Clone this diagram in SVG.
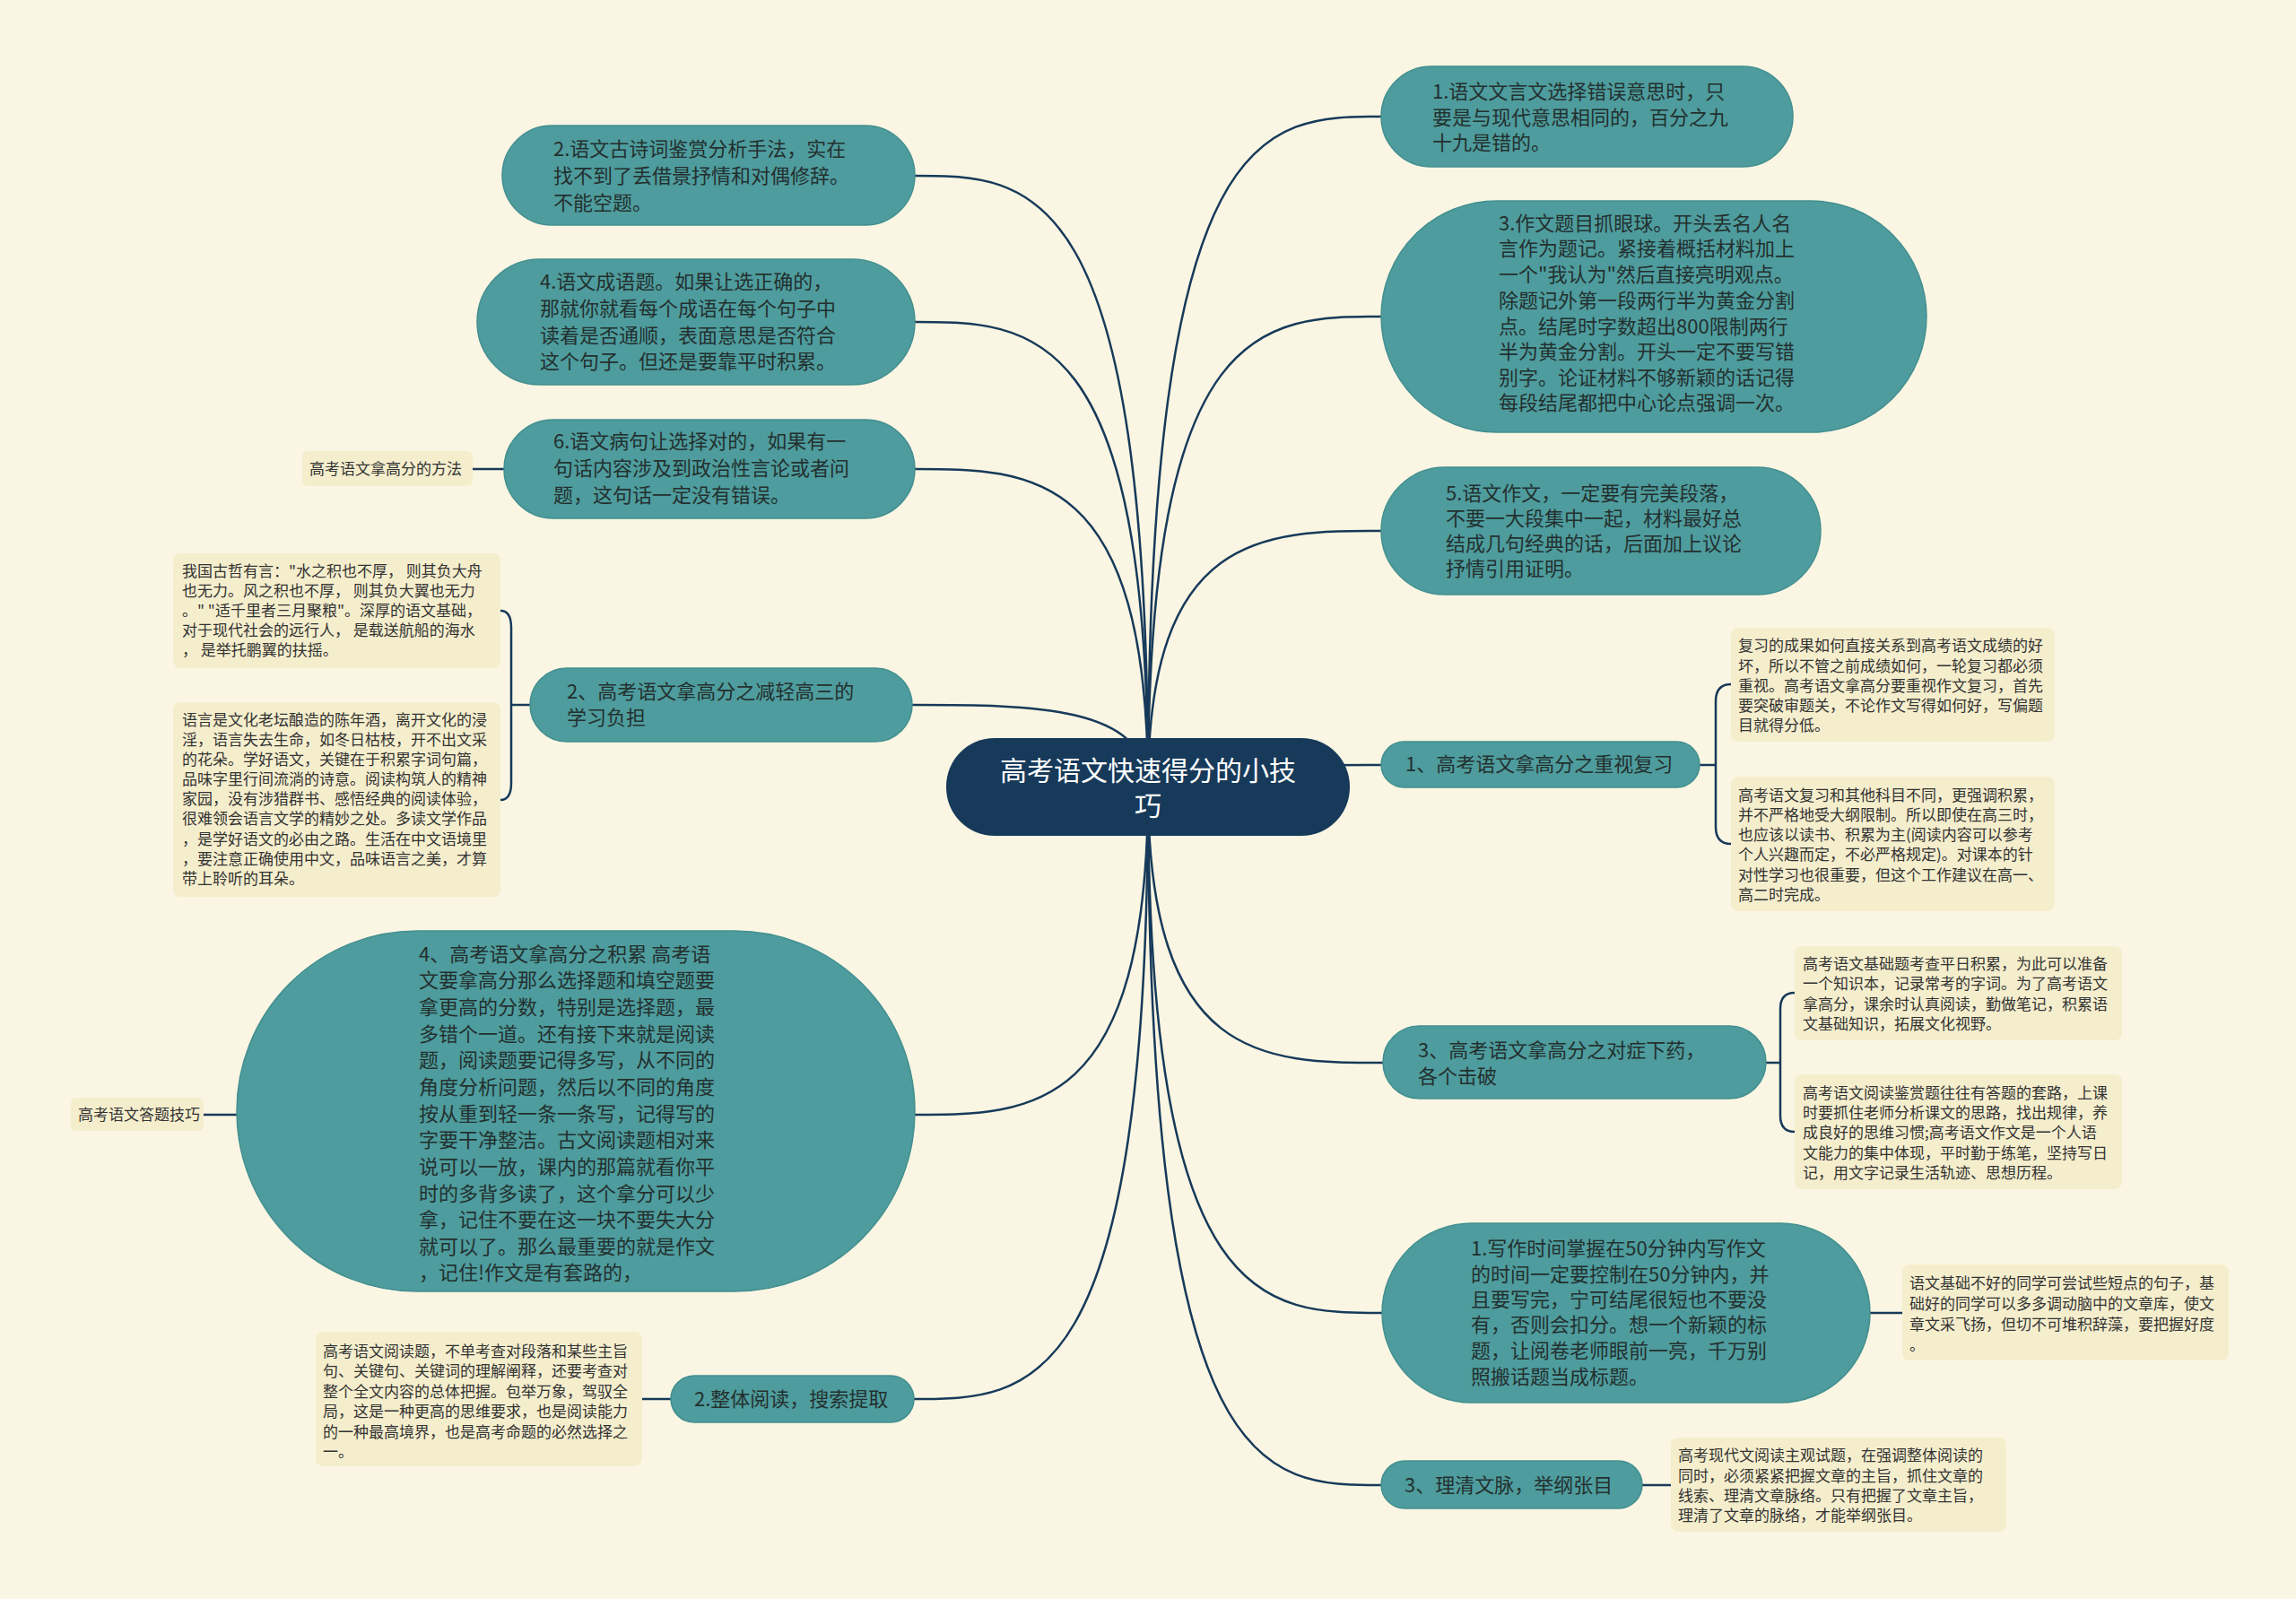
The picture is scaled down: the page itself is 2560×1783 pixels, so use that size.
<svg xmlns="http://www.w3.org/2000/svg" width="2560" height="1783" viewBox="0 0 2560 1783">
<style>
.bg{fill:#FAF6E3}
.node{fill:#4E9C9D;stroke:#438F90;stroke-width:1.5}
.root{fill:#173A5A}
.leaf{fill:#F5EECD}
.link{fill:none;stroke:#173A5A;stroke-width:2.5}
text{font-family:"Noto Sans CJK SC","Microsoft YaHei",sans-serif;dominant-baseline:central}
.t{font-size:22px;fill:#23302F}
.s{font-size:17px;fill:#333333}
.r{font-size:30px;fill:#FFFFFF}
</style>
<rect class="bg" x="0" y="0" width="2560" height="1783"/>
<g id="connectors">
<path class="link" d="M1280 878 C1280 196 1150 196 1020 196"/>
<path class="link" d="M1280 878 C1280 359 1150 359 1020 359"/>
<path class="link" d="M1280 878 C1280 523 1150 523 1020 523"/>
<path class="link" d="M1280 878 C1280 786 1150 786 1017 786"/>
<path class="link" d="M1280 878 C1280 1243 1150 1243 1020 1243"/>
<path class="link" d="M1280 878 C1280 1560 1150 1560 1019 1560"/>
<path class="link" d="M1280 878 C1280 130 1410 130 1540 130"/>
<path class="link" d="M1280 878 C1280 353 1410 353 1540 353"/>
<path class="link" d="M1280 878 C1280 592 1410 592 1540 592"/>
<path class="link" d="M1280 878 C1280 853 1410 853 1540 853"/>
<path class="link" d="M1280 878 C1280 1185 1410 1185 1542 1185"/>
<path class="link" d="M1280 878 C1280 1464 1410 1464 1541 1464"/>
<path class="link" d="M1280 878 C1280 1656 1410 1656 1540 1656"/>
<path class="link" d="M527 523 L562 523"/>
<path class="link" d="M227 1243 L264 1243"/>
<path class="link" d="M716 1560 L748 1560"/>
<path class="link" d="M591 786 L570 786"/>
<path class="link" d="M558 681 Q570 681 570 700 L570 873 Q570 892 558 892"/>
<path class="link" d="M1895 853 L1913 853"/>
<path class="link" d="M1930 763 Q1913 763 1913 782 L1913 922 Q1913 941 1930 941"/>
<path class="link" d="M1969 1185 L1985 1185"/>
<path class="link" d="M2001 1107 Q1985 1107 1985 1125 L1985 1244 Q1985 1262 2001 1262"/>
<path class="link" d="M2085 1464 L2121 1464"/>
<path class="link" d="M1831 1656 L1863 1656"/>
</g>
<g id="root">
<rect class="root" x="1055" y="823" width="450" height="109" rx="54"/>
<text class="r" x="1280" y="857" text-anchor="middle">高考语文快速得分的小技</text>
<text class="r" x="1280" y="896" text-anchor="middle">巧</text>
</g>
<g id="L1">
<rect class="node" x="560" y="140" width="460" height="111" rx="55.5"/>
<text class="t"><tspan x="617" y="164">2.语文古诗词鉴赏分析手法，实在</tspan><tspan x="617" y="194">找不到了丢借景抒情和对偶修辞。</tspan><tspan x="617" y="224">不能空题。</tspan></text>
</g>
<g id="L2">
<rect class="node" x="532" y="289" width="488" height="140" rx="70"/>
<text class="t"><tspan x="602" y="312">4.语文成语题。如果让选正确的，</tspan><tspan x="602" y="342">那就你就看每个成语在每个句子中</tspan><tspan x="602" y="372">读着是否通顺，表面意思是否符合</tspan><tspan x="602" y="401">这个句子。但还是要靠平时积累。</tspan></text>
</g>
<g id="L3">
<rect class="node" x="562" y="468" width="458" height="110" rx="55"/>
<text class="t"><tspan x="617" y="490">6.语文病句让选择对的，如果有一</tspan><tspan x="617" y="520">句话内容涉及到政治性言论或者问</tspan><tspan x="617" y="550">题，这句话一定没有错误。</tspan></text>
</g>
<g id="L3a">
<rect class="leaf" x="337" y="503" width="190" height="39" rx="6"/>
<text class="s" x="345" y="521">高考语文拿高分的方法</text>
</g>
<g id="L4">
<rect class="node" x="591" y="745" width="426" height="82" rx="41"/>
<text class="t"><tspan x="632" y="769">2、高考语文拿高分之减轻高三的</tspan><tspan x="632" y="798">学习负担</tspan></text>
</g>
<g id="L4a">
<rect class="leaf" x="193" y="617" width="365" height="128" rx="8"/>
<text class="s"><tspan x="203" y="635">我国古哲有言："水之积也不厚， 则其负大舟</tspan><tspan x="203" y="657">也无力。风之积也不厚， 则其负大翼也无力</tspan><tspan x="203" y="679">。" "适千里者三月聚粮"。深厚的语文基础，</tspan><tspan x="203" y="701">对于现代社会的远行人， 是载送航船的海水</tspan><tspan x="203" y="723">， 是举托鹏翼的扶摇。</tspan></text>
</g>
<g id="L4b">
<rect class="leaf" x="193" y="783" width="365" height="217" rx="8"/>
<text class="s"><tspan x="203" y="801">语言是文化老坛酿造的陈年酒，离开文化的浸</tspan><tspan x="203" y="823">淫，语言失去生命，如冬日枯枝，开不出文采</tspan><tspan x="203" y="845">的花朵。学好语文，关键在于积累字词句篇，</tspan><tspan x="203" y="867">品味字里行间流淌的诗意。阅读构筑人的精神</tspan><tspan x="203" y="889">家园，没有涉猎群书、感悟经典的阅读体验，</tspan><tspan x="203" y="911">很难领会语言文学的精妙之处。多读文学作品</tspan><tspan x="203" y="934">，是学好语文的必由之路。生活在中文语境里</tspan><tspan x="203" y="956">，要注意正确使用中文，品味语言之美，才算</tspan><tspan x="203" y="978">带上聆听的耳朵。</tspan></text>
</g>
<g id="L5">
<rect class="node" x="264" y="1038" width="756" height="402" rx="201"/>
<text class="t"><tspan x="467" y="1062">4、高考语文拿高分之积累 高考语</tspan><tspan x="467" y="1091">文要拿高分那么选择题和填空题要</tspan><tspan x="467" y="1121">拿更高的分数，特别是选择题，最</tspan><tspan x="467" y="1151">多错个一道。还有接下来就是阅读</tspan><tspan x="467" y="1180">题，阅读题要记得多写，从不同的</tspan><tspan x="467" y="1210">角度分析问题，然后以不同的角度</tspan><tspan x="467" y="1240">按从重到轻一条一条写，记得写的</tspan><tspan x="467" y="1269">字要干净整洁。古文阅读题相对来</tspan><tspan x="467" y="1299">说可以一放，课内的那篇就看你平</tspan><tspan x="467" y="1329">时的多背多读了，这个拿分可以少</tspan><tspan x="467" y="1358">拿，记住不要在这一块不要失大分</tspan><tspan x="467" y="1388">就可以了。那么最重要的就是作文</tspan><tspan x="467" y="1417">，记住!作文是有套路的，</tspan></text>
</g>
<g id="L5a">
<rect class="leaf" x="79" y="1224" width="148" height="37" rx="6"/>
<text class="s" x="87" y="1241">高考语文答题技巧</text>
</g>
<g id="L6">
<rect class="node" x="748" y="1534" width="271" height="52" rx="26"/>
<text class="t" x="774" y="1558">2.整体阅读，搜索提取</text>
</g>
<g id="L6a">
<rect class="leaf" x="352" y="1485" width="364" height="150" rx="8"/>
<text class="s"><tspan x="360" y="1505">高考语文阅读题，不单考查对段落和某些主旨</tspan><tspan x="360" y="1527">句、关键句、关键词的理解阐释，还要考查对</tspan><tspan x="360" y="1550">整个全文内容的总体把握。包举万象，驾驭全</tspan><tspan x="360" y="1572">局，这是一种更高的思维要求，也是阅读能力</tspan><tspan x="360" y="1595">的一种最高境界，也是高考命题的必然选择之</tspan><tspan x="360" y="1617">一。</tspan></text>
</g>
<g id="R1">
<rect class="node" x="1540" y="74" width="459" height="112" rx="56"/>
<text class="t"><tspan x="1597" y="100">1.语文文言文选择错误意思时，只</tspan><tspan x="1597" y="129">要是与现代意思相同的，百分之九</tspan><tspan x="1597" y="157">十九是错的。</tspan></text>
</g>
<g id="R2">
<rect class="node" x="1540" y="224" width="608" height="258" rx="129"/>
<text class="t"><tspan x="1671" y="247">3.作文题目抓眼球。开头丢名人名</tspan><tspan x="1671" y="275">言作为题记。紧接着概括材料加上</tspan><tspan x="1671" y="304">一个"我认为"然后直接亮明观点。</tspan><tspan x="1671" y="333">除题记外第一段两行半为黄金分割</tspan><tspan x="1671" y="362">点。结尾时字数超出800限制两行</tspan><tspan x="1671" y="390">半为黄金分割。开头一定不要写错</tspan><tspan x="1671" y="419">别字。论证材料不够新颖的话记得</tspan><tspan x="1671" y="447">每段结尾都把中心论点强调一次。</tspan></text>
</g>
<g id="R3">
<rect class="node" x="1540" y="521" width="490" height="142" rx="71"/>
<text class="t"><tspan x="1612" y="548">5.语文作文，一定要有完美段落，</tspan><tspan x="1612" y="576">不要一大段集中一起，材料最好总</tspan><tspan x="1612" y="604">结成几句经典的话，后面加上议论</tspan><tspan x="1612" y="632">抒情引用证明。</tspan></text>
</g>
<g id="R4">
<rect class="node" x="1540" y="827" width="355" height="51" rx="25.5"/>
<text class="t" x="1567" y="850">1、高考语文拿高分之重视复习</text>
</g>
<g id="R4a">
<rect class="leaf" x="1930" y="700" width="361" height="127" rx="8"/>
<text class="s"><tspan x="1938" y="718">复习的成果如何直接关系到高考语文成绩的好</tspan><tspan x="1938" y="741">坏，所以不管之前成绩如何，一轮复习都必须</tspan><tspan x="1938" y="763">重视。高考语文拿高分要重视作文复习，首先</tspan><tspan x="1938" y="785">要突破审题关，不论作文写得如何好，写偏题</tspan><tspan x="1938" y="807">目就得分低。</tspan></text>
</g>
<g id="R4b">
<rect class="leaf" x="1930" y="866" width="361" height="150" rx="8"/>
<text class="s"><tspan x="1938" y="885">高考语文复习和其他科目不同，更强调积累，</tspan><tspan x="1938" y="907">并不严格地受大纲限制。所以即使在高三时，</tspan><tspan x="1938" y="929">也应该以读书、积累为主(阅读内容可以参考</tspan><tspan x="1938" y="951">个人兴趣而定，不必严格规定)。对课本的针</tspan><tspan x="1938" y="974">对性学习也很重要，但这个工作建议在高一、</tspan><tspan x="1938" y="996">高二时完成。</tspan></text>
</g>
<g id="R5">
<rect class="node" x="1542" y="1144" width="427" height="81" rx="40.5"/>
<text class="t"><tspan x="1581" y="1169">3、高考语文拿高分之对症下药，</tspan><tspan x="1581" y="1198">各个击破</tspan></text>
</g>
<g id="R5a">
<rect class="leaf" x="2001" y="1055" width="365" height="105" rx="8"/>
<text class="s"><tspan x="2010" y="1073">高考语文基础题考查平日积累，为此可以准备</tspan><tspan x="2010" y="1095">一个知识本，记录常考的字词。为了高考语文</tspan><tspan x="2010" y="1118">拿高分，课余时认真阅读，勤做笔记，积累语</tspan><tspan x="2010" y="1140">文基础知识，拓展文化视野。</tspan></text>
</g>
<g id="R5b">
<rect class="leaf" x="2001" y="1198" width="365" height="128" rx="8"/>
<text class="s"><tspan x="2010" y="1217">高考语文阅读鉴赏题往往有答题的套路，上课</tspan><tspan x="2010" y="1239">时要抓住老师分析课文的思路，找出规律，养</tspan><tspan x="2010" y="1261">成良好的思维习惯;高考语文作文是一个人语</tspan><tspan x="2010" y="1284">文能力的集中体现，平时勤于练笔，坚持写日</tspan><tspan x="2010" y="1306">记，用文字记录生活轨迹、思想历程。</tspan></text>
</g>
<g id="R6">
<rect class="node" x="1541" y="1364" width="544" height="200" rx="100"/>
<text class="t"><tspan x="1640" y="1390">1.写作时间掌握在50分钟内写作文</tspan><tspan x="1640" y="1419">的时间一定要控制在50分钟内，并</tspan><tspan x="1640" y="1447">且要写完，宁可结尾很短也不要没</tspan><tspan x="1640" y="1475">有，否则会扣分。想一个新颖的标</tspan><tspan x="1640" y="1504">题，让阅卷老师眼前一亮，千万别</tspan><tspan x="1640" y="1533">照搬话题当成标题。</tspan></text>
</g>
<g id="R6a">
<rect class="leaf" x="2121" y="1410" width="364" height="107" rx="8"/>
<text class="s"><tspan x="2129" y="1429">语文基础不好的同学可尝试些短点的句子，基</tspan><tspan x="2129" y="1452">础好的同学可以多多调动脑中的文章库，使文</tspan><tspan x="2129" y="1475">章文采飞扬，但切不可堆积辞藻，要把握好度</tspan><tspan x="2129" y="1498">。</tspan></text>
</g>
<g id="R7">
<rect class="node" x="1540" y="1629" width="291" height="53" rx="26.5"/>
<text class="t" x="1566" y="1654">3、理清文脉，举纲张目</text>
</g>
<g id="R7a">
<rect class="leaf" x="1863" y="1603" width="374" height="105" rx="8"/>
<text class="s"><tspan x="1871" y="1621">高考现代文阅读主观试题，在强调整体阅读的</tspan><tspan x="1871" y="1644">同时，必须紧紧把握文章的主旨，抓住文章的</tspan><tspan x="1871" y="1666">线索、理清文章脉络。只有把握了文章主旨，</tspan><tspan x="1871" y="1688">理清了文章的脉络，才能举纲张目。</tspan></text>
</g>
</svg>
